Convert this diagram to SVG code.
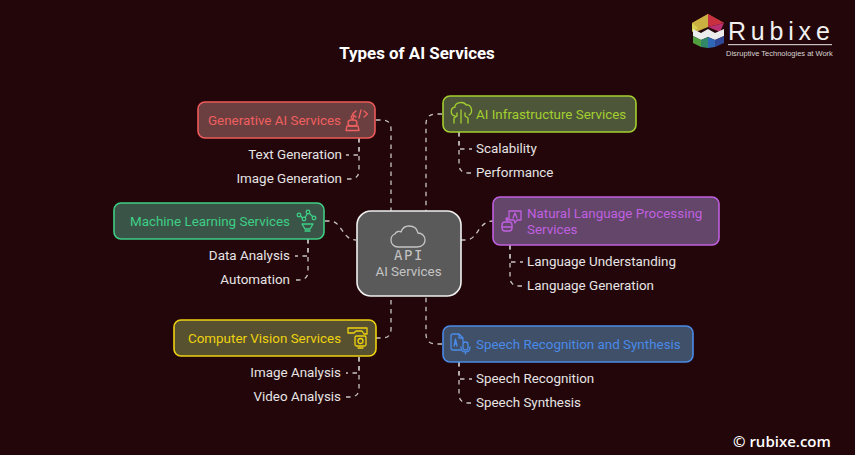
<svg xmlns="http://www.w3.org/2000/svg" width="855" height="455" viewBox="0 0 855 455">
<style>
text{font-family:Roboto,"Liberation Sans",sans-serif;font-size:13.4px}
.t{fill:#e6e4e4}
.e{text-anchor:end}
.n{stroke-width:1.6}
.c{fill:none;stroke:#c8c4c4;stroke-width:1.3;stroke-dasharray:4.5 4.5}
.i{fill:none;stroke-width:1.3;stroke-linecap:round;stroke-linejoin:round}
</style>
<rect width="855" height="455" fill="#230609"/>
<text x="417" y="59" text-anchor="middle" style="font-size:16.9px;font-weight:700" fill="#ffffff">Types of AI Services</text>
<g id="connectors">
<path class="c" d="M376 120H382Q391 120 391 129V211"/>
<path class="c" d="M442 114H436Q426 114 426 124V211"/>
<path class="c" d="M325 221H330C342 221 342 240 356 240"/>
<path class="c" d="M461 240H466C478 240 478 221 493 221"/>
<path class="c" d="M376 338H382Q391 338 391 329V296"/>
<path class="c" d="M442 344H436Q426 344 426 334V296"/>
<path class="c" d="M359 138V155H346"/>
<path class="c" d="M359 138V170Q359 179 350 179H345"/>
<path class="c" d="M459 132V149H472"/>
<path class="c" d="M459 132V164Q459 173 468 173H473"/>
<path class="c" d="M308 239V256H295"/>
<path class="c" d="M308 239V271Q308 280 299 280H294"/>
<path class="c" d="M510 245V262H523"/>
<path class="c" d="M510 245V277Q510 286 519 286H524"/>
<path class="c" d="M359 357V373H346"/>
<path class="c" d="M359 357V388Q359 397 350 397H345"/>
<path class="c" d="M459 362V379H472"/>
<path class="c" d="M459 362V394Q459 403 468 403H473"/>
</g>
<g id="node-generative">
<rect class="n" x="198" y="102" width="177" height="36" rx="7" fill="#6b3e3f" stroke="#ee5a5a"/>
<text x="208" y="125" fill="#f06060">Generative AI Services</text>
<g class="i" stroke="#f06060"><path d="M356 111l-3.500 3 3.500 3M361 110l-2 8M364 111l3.500 3-3.500 3"/><circle cx="352.500" cy="117" r="1.300"/><path d="M352.500 118.500V120"/><rect x="348" y="120" width="9" height="6" rx="3"/><path d="M347 126h11l1 4.500h-13z"/></g>
</g>
<text class="t e" x="342" y="159">Text Generation</text>
<text class="t e" x="342" y="183">Image Generation</text>
<g id="node-infra">
<rect class="n" x="443" y="96" width="193" height="36" rx="7" fill="#4d5638" stroke="#a4cf30"/>
<text x="476" y="119" fill="#a4cf30">AI Infrastructure Services</text>
<g class="i" stroke="#a4cf30"><path d="M455 116c-5-1-5-8 0-9 0-5 9-6 11-2 5-1 8 7 3 10M461 110v13M457 113v3l-3 2v5M465 113v3l3 2v5"/></g>
</g>
<text class="t" x="476" y="153">Scalability</text>
<text class="t" x="476" y="177">Performance</text>
<g id="node-ml">
<rect class="n" x="114" y="203" width="210" height="36" rx="7" fill="#3a5548" stroke="#3ecf85"/>
<text x="130" y="226" fill="#3ecf85">Machine Learning Services</text>
<g class="i" stroke="#3ecf85"><circle cx="299" cy="215" r="1.800"/><circle cx="308" cy="212" r="1.800"/><circle cx="314" cy="218" r="1.800"/><circle cx="304" cy="219" r="1.800"/><path d="M300.500 216l2 2M305 217.500l2.500-4M309.500 213.500l3 3M302 224h11l-3 5h-5zM305 231h5"/></g>
</g>
<text class="t e" x="290" y="260">Data Analysis</text>
<text class="t e" x="290" y="284">Automation</text>
<g id="node-center">
<rect x="357" y="211" width="104" height="85" rx="14" fill="#5a5a5a" stroke="#f0f0f0" stroke-width="1.600"/>
<g class="i" stroke="#c4c4c4"><path d="M400 247h17c6 0 8-4 8-7 0-4-3-7-7-7-1-5-5-7-9-7-4 0-7 3-8 6-1-1-5-1-6 2-3 1-4 3-4 6 0 4 3 7 7 7z"/></g>
<text x="409" y="260" text-anchor="middle" fill="#c4c4c4" style="font-family:'DejaVu Sans Mono',monospace;font-size:14px;letter-spacing:1.500px">API</text>
<text x="408.500" y="276" text-anchor="middle" fill="#c4c4c4">AI Services</text>
</g>
<g id="node-nlp">
<rect class="n" x="493" y="197" width="226" height="48" rx="7" fill="#634669" stroke="#c060e0"/>
<text x="527" y="218" fill="#c060e0">Natural Language Processing</text>
<text x="527" y="234" fill="#c060e0">Services</text>
<g class="i" stroke="#c060e0"><path d="M509 211h12v9h-4l-2 3-1-3h-5z"/><path d="M513 218l2-5 2 5"/><circle cx="507" cy="219" r="1"/><path d="M507 220v2"/><rect x="502" y="222" width="10" height="9" rx="3"/><path d="M502 227h10"/></g>
</g>
<text class="t" x="527" y="266">Language Understanding</text>
<text class="t" x="527" y="290">Language Generation</text>
<g id="node-cv">
<rect class="n" x="174" y="320" width="202" height="36" rx="7" fill="#57512f" stroke="#eed210"/>
<text x="188" y="343" fill="#eed210">Computer Vision Services</text>
<g class="i" stroke="#eed210"><path d="M348 333v-5h19v6h-3M354 333h-6M354 333l2-2h6l2 3"/><rect x="355" y="336" width="11" height="10" rx="1.500"/><circle cx="360.500" cy="341" r="2.500"/><path d="M358 348h5"/></g>
</g>
<text class="t e" x="341" y="377">Image Analysis</text>
<text class="t e" x="341" y="401">Video Analysis</text>
<g id="node-speech">
<rect class="n" x="443" y="326" width="250" height="36" rx="7" fill="#3f5068" stroke="#4a8ae8"/>
<text x="476" y="349" fill="#4a8ae8">Speech Recognition and Synthesis</text>
<g class="i" stroke="#4a8ae8"><path d="M461 350h-8q-2 0-2-2v-12q0-2 2-2h6l4 4v4M459 334v4h4"/><path d="M454 346l1.500-7 1.500 7M455 344h2"/><rect x="463" y="342" width="5" height="8" rx="2.500"/><path d="M461 347q0 5 4.500 5t4.500-5M465.500 352v2"/></g>
</g>
<text class="t" x="476" y="383">Speech Recognition</text>
<text class="t" x="476" y="407">Speech Synthesis</text>
<g id="logo">
<path d="M708 14L724 23H708L692 23z" fill="#d06a3a"/>
<path d="M708 14L692 23L696 32L708 27z" fill="#c9b040"/>
<path d="M708 14L724 23L708 27z" fill="#c83040"/>
<path d="M724 23L708 27L720 32z" fill="#b83070"/>
<path d="M692 23V32L698 28z" fill="#d8d050"/>
<path d="M693 29l8 4 7-4 7 4 9-4v7l-9 4-7-3-7 3-8-4z" fill="#ececec"/>
<path d="M693 36l8 4v7l-4-2-4-2z" fill="#50a040"/>
<path d="M701 40l7-3v11l-7-1z" fill="#308868"/>
<path d="M708 37l7 3v7l-7 1z" fill="#3068b8"/>
<path d="M715 40l9-4v7l-9 4z" fill="#304898"/>
<text x="728" y="39.500" fill="#f0f0f0" style="font-family:'Liberation Sans',sans-serif;font-size:25px;letter-spacing:4.800px">Rubixe</text>
<rect x="728" y="44" width="104" height="1.200" fill="#c8c0c0"/>
<text x="726" y="55.500" fill="#d8d4d4" style="font-family:'Liberation Sans',sans-serif;font-size:7.500px">Disruptive Technologies at Work</text>
</g>
<text x="733" y="447" fill="#ffffff" style="font-family:'Open Sans',sans-serif;font-size:15px;font-weight:600">© rubixe.com</text>
</svg>
